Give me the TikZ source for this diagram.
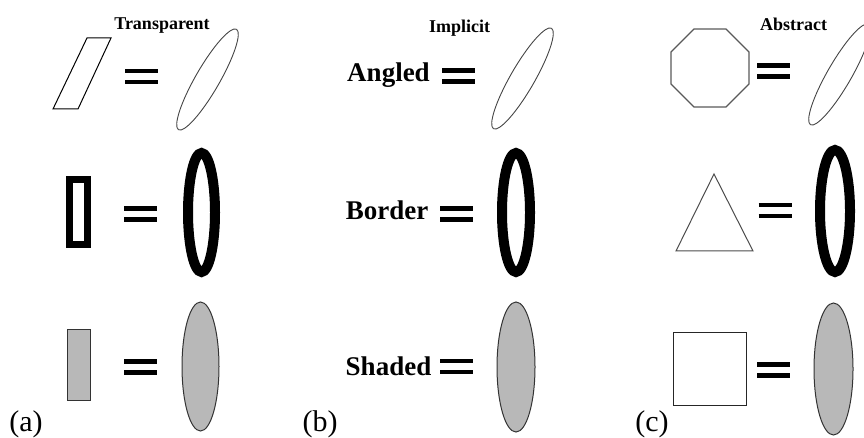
\documentclass[tikz,border=0pt]{standalone}
\usepackage{fontspec}
\setmainfont{Liberation Serif}
\usetikzlibrary{shapes.geometric}
\definecolor{shadegray}{HTML}{B8B8B8}
\definecolor{thinline}{HTML}{444444}
\begin{document}
\begin{tikzpicture}[x=1pt,y=-1pt,
  title/.style={font=\fontsize{18}{18}\selectfont\bfseries, inner sep=0pt, anchor=base},
  word/.style={font=\fontsize{27}{27}\selectfont\bfseries, inner sep=0pt, anchor=base},
  lbl/.style={font=\fontsize{30}{30}\selectfont, inner sep=0pt, anchor=base},
  eqbar/.style={line width=4.5pt, black},
  equals/.pic={\draw[eqbar] (-16.5,-5.3) -- (16.5,-5.3); \draw[eqbar] (-16.5,5.3) -- (16.5,5.3);},
  tiltell/.style={ellipse, draw=thinline, line width=0.9pt, inner sep=0pt, minimum width=116pt, minimum height=24pt, rotate=60},
  thickell/.style={ellipse, draw=black, line width=10pt, inner sep=0pt},
  grayell/.style={ellipse, draw=black!80, fill=shadegray, line width=1pt, inner sep=0pt},
  thinshape/.style={draw=thinline, line width=1pt, line join=miter}
]
\useasboundingbox (0,0) rectangle (864,438);
\clip (0,0) rectangle (864,438);

% ---------- panel (a) ----------
\node[title] (ta) at (162,29.5) {Transparent};
\draw[thinshape, draw=black] (87,38) -- (111,38) -- (78,109) -- (53,109) -- cycle;
\pic (ea1) at (141.5,76.5) {equals};
\node[tiltell] (la1) at (207.5,79.5) {};

\draw[line width=7pt, black] (69.5,179.5) rectangle (87.5,244.5);
\pic (ea2) at (140.5,214) {equals};
\node[thickell, minimum width=27pt, minimum height=119pt] (la2) at (201.5,212.5) {};

\draw[fill=shadegray, draw=black!80, line width=1.5pt] (67.5,329.5) rectangle (90.5,400.5);
\pic (ea3) at (140.5,367) {equals};
\node[grayell, minimum width=37pt, minimum height=129pt] (la3) at (200.5,366.5) {};

\node[lbl] (a) at (26,431) {(a)};

% ---------- panel (b) ----------
\node[title] (tb) at (459.5,33) {Implicit};
\node[word] (w1) at (388.5,81.5) {Angled};
\pic (eb1) at (458.5,76) {equals};
\node[tiltell] (lb1) at (522.5,78.5) {};

\node[word] (w2) at (387,220) {Border};
\pic (eb2) at (456.5,214) {equals};
\node[thickell, minimum width=28pt, minimum height=119pt] (lb2) at (516,212.5) {};

\node[word] (w3) at (388.5,375) {Shaded};
\pic (eb3) at (456.5,366.5) {equals};
\node[grayell, minimum width=38pt, minimum height=130pt] (lb3) at (516,367) {};

\node[lbl] (b) at (320,431) {(b)};

% ---------- panel (c) ----------
\node[title] (tc) at (793.5,31) {Abstract};
\draw[thinshape, draw=black!65, line width=1.2pt] (694,29) -- (726,29) -- (749,52) -- (749,84) -- (726,107) -- (694,107) -- (671,84) -- (671,52) -- cycle;
\pic (ec1) at (773.5,71) {equals};
\node[tiltell] (lc1) at (839.5,74.5) {};

\draw[thinshape, draw=black!70] (714,174) -- (753,251) -- (676,251) -- cycle;
\pic (ec2) at (775,210.5) {equals};
\node[thickell, minimum width=30pt, minimum height=122pt] (lc2) at (835,211) {};

\draw[thinshape, draw=black!85, line width=1.3pt] (673.5,332.5) rectangle (746.5,405.5);
\pic (ec3) at (773.5,370) {equals};
\node[grayell, minimum width=39pt, minimum height=132pt] (lc3) at (833.5,369) {};

\node[lbl] (c) at (652,431) {(c)};
\end{tikzpicture}
\end{document}
